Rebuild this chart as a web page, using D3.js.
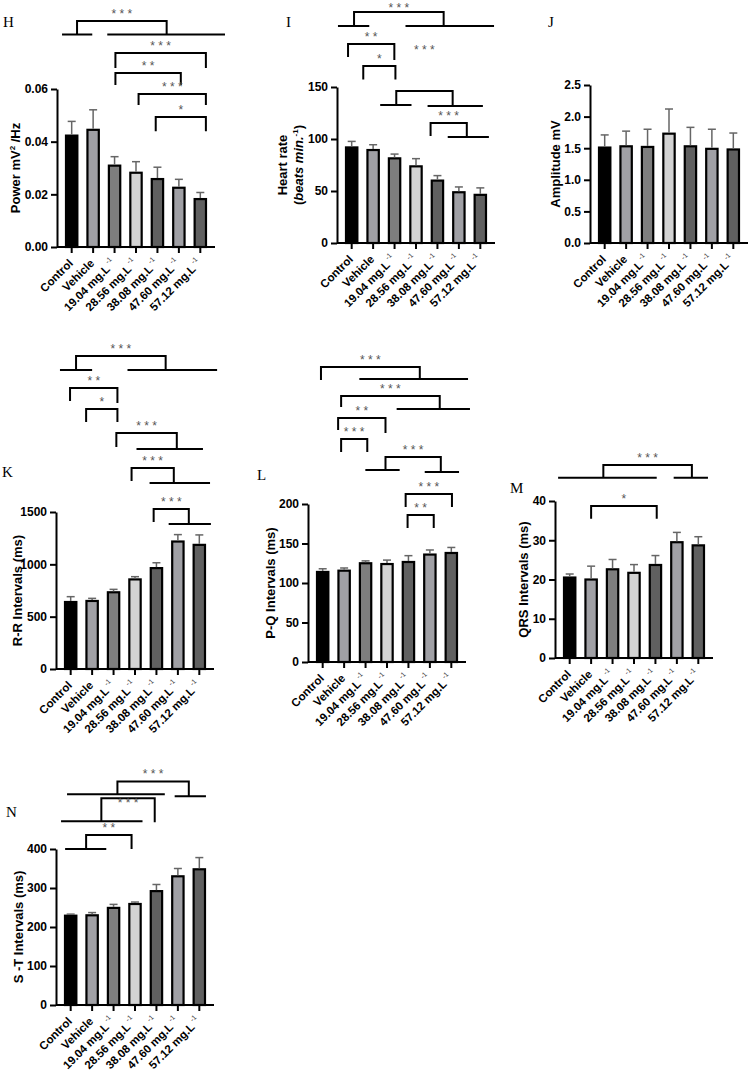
<!DOCTYPE html>
<html lang="en">
<head>
<meta charset="UTF-8">
<title>ECG parameters</title>
<script src="https://d3js.org/d3.v7.min.js"></script>
<style>
    body { margin: 0; background: #fff; }
    text { font-family: "Liberation Sans", Arial, sans-serif; }
    .letter { font-family: "Liberation Serif", "Times New Roman", serif; font-size: 15px; }
    .axis text { font-size: 12px; font-weight: bold; fill: #000; font-family: "Liberation Sans", Arial, sans-serif; }
    .axis path, .axis line { stroke: #000; stroke-width: 2; }
    .xlab { font-size: 11.5px; font-weight: bold; }
    .ytitle { font-size: 13px; font-weight: bold; }
    .stars { font-size: 12px; fill: #555; }
</style>
</head>
<body>
<svg id="fig" width="750" height="1073"></svg>
<script>
// groups (x categories) shared by every panel
const groups = ["Control", "Vehicle", "19.04 mg.L", "28.56 mg.L", "38.08 mg.L", "47.60 mg.L", "57.12 mg.L"];
const groupSup = ["", "", "-1", "-1", "-1", "-1", "-1"];

// H - power
const powerMean = [0.0423, 0.0445, 0.0309, 0.0282, 0.0258, 0.0225, 0.0182];
const powerSem = [0.0054, 0.0076, 0.0034, 0.0042, 0.0045, 0.0032, 0.0025];
const powerTicks = [0, 0.02, 0.04, 0.06];

// I - heart rate
const heartMean = [91.9, 89.4, 81.4, 73.7, 60.0, 48.8, 46.3];
const heartSem = [5.8, 5.1, 4.1, 7.4, 4.8, 5.1, 6.7];
const heartTicks = [0, 50, 100, 150];

// J - amplitude
const ampMean = [1.51, 1.53, 1.52, 1.73, 1.53, 1.49, 1.48];
const ampSem = [0.20, 0.24, 0.28, 0.39, 0.30, 0.31, 0.26];
const ampTicks = [0, 0.5, 1.0, 1.5, 2.0, 2.5];

// K - R-R intervals
const rrMean = [640, 650, 733, 856, 964, 1218, 1186];
const rrSem = [51, 25, 28, 26, 51, 66, 95];
const rrTicks = [0, 500, 1000, 1500];

// L - P-Q intervals
const pqMean = [114, 115.6, 125, 124, 126.6, 136, 138];
const pqSem = [4, 3.4, 3, 5, 8, 5.8, 7];
const pqTicks = [0, 50, 100, 150, 200];

// M - QRS intervals
const qrsMean = [20.5, 20.0, 22.6, 21.7, 23.7, 29.5, 28.7];
const qrsSem = [0.9, 3.4, 2.5, 2.1, 2.4, 2.5, 2.2];
const qrsTicks = [0, 10, 20, 30, 40];

// N - S-T intervals
const stMean = [229, 230, 249, 259, 292, 330, 348];
const stSem = [4, 7, 9, 5, 17, 20, 30];
const stTicks = [0, 100, 200, 300, 400];

// significance brackets: l/r = group index of the legs, top/lEnd/rEnd in axis units,
// lLine/rLine = group-index span of a horizontal group line at the leg end
const powerSig = [
    { t: "***", top: 0.0858, l: 0.25, r: 4.43, lEnd: 0.0807, rEnd: 0.0807, lLine: [-0.45, 0.96], rLine: [1.66, 7.15] },
    { t: "***", top: 0.0737, l: 2.04, r: 6.26, lEnd: 0.0680, rEnd: 0.0680 },
    { t: "**", top: 0.0661, l: 2.04, r: 5.09, lEnd: 0.0615, rEnd: 0.0615 },
    { t: "***", top: 0.0581, l: 3.12, r: 6.26, lEnd: 0.0539, rEnd: 0.0539 },
    { t: "*", top: 0.0494, l: 3.92, r: 6.26, lEnd: 0.0440, rEnd: 0.0440 }
];
const heartSig = [
    { t: "***", top: 222.1, l: 0.11, r: 4.29, lEnd: 208.7, rEnd: 208.7, lLine: [-0.64, 0.82], rLine: [2.51, 6.64], tY: 222.1 },
    { t: "**", top: 191.3, l: -0.17, r: 1.99, lEnd: 178.8, rEnd: 176.0 },
    { t: "*", top: 170.2, l: 0.54, r: 2.04, lEnd: 157.2, rEnd: 157.2 },
    { t: "***", top: 146.2, l: 2.08, r: 4.71, lEnd: 132.7, rEnd: 131.7, lLine: [1.33, 2.79], rLine: [3.54, 6.12], tY: 181.7 },
    { t: "***", top: 115.4, l: 3.68, r: 5.37, lEnd: 102.9, rEnd: 101.9, rLine: [4.48, 6.40] }
];
const rrSig = [
    { t: "***", top: 2990, l: 0.25, r: 4.43, lEnd: 2857, rEnd: 2857, lLine: [-0.50, 1.00], rLine: [2.65, 6.83] },
    { t: "**", top: 2685, l: -0.03, r: 2.18, lEnd: 2560, rEnd: 2541 },
    { t: "*", top: 2484, l: 0.72, r: 2.18, lEnd: 2360, rEnd: 2360 },
    { t: "***", top: 2255, l: 2.13, r: 4.95, lEnd: 2121, rEnd: 2102, rLine: [3.07, 6.17] },
    { t: "***", top: 1920, l: 2.84, r: 4.81, lEnd: 1796, rEnd: 1777, rLine: [3.68, 6.50] },
    { t: "***", top: 1529, l: 3.87, r: 5.51, lEnd: 1404, rEnd: 1385, rLine: [4.57, 6.54] }
];
const pqSig = [
    { t: "***", top: 373.4, l: -0.08, r: 4.53, lEnd: 357.0, rEnd: 358.2, rLine: [1.71, 6.78] },
    { t: "***", top: 336.7, l: 0.86, r: 5.46, lEnd: 322.8, rEnd: 320.2, rLine: [3.45, 6.87] },
    { t: "**", top: 308.9, l: 0.72, r: 2.93, lEnd: 293.7, rEnd: 289.9 },
    { t: "***", top: 282.3, l: 0.86, r: 2.08, lEnd: 265.8, rEnd: 265.8 },
    { t: "***", top: 259.5, l: 2.93, r: 5.51, lEnd: 243.0, rEnd: 240.5, lLine: [1.99, 3.59], rLine: [4.76, 6.36] },
    { t: "***", top: 212.7, l: 3.87, r: 6.03, lEnd: 196.2, rEnd: 196.2 },
    { t: "**", top: 186.1, l: 3.96, r: 5.18, lEnd: 169.6, rEnd: 169.6 }
];
const qrsSig = [
    { t: "***", top: 49.2, l: 1.57, r: 5.70, lEnd: 45.9, rEnd: 45.9, lLine: [-0.54, 4.06], rLine: [4.85, 6.45] },
    { t: "*", top: 38.7, l: 1.00, r: 4.06, lEnd: 35.5, rEnd: 35.5 }
];
const stSig = [
    { t: "***", top: 573.2, l: 2.18, r: 5.51, lEnd: 540.1, rEnd: 535.0, lLine: [-0.17, 4.39], rLine: [4.85, 6.31] },
    { t: "***", top: 529.9, l: 1.43, r: 3.92, lEnd: 471.3, rEnd: 468.8, lLine: [-0.45, 3.35], tY: 507 },
    { t: "**", top: 435.7, l: 0.72, r: 2.84, lEnd: 400, rEnd: 400, lLine: [-0.26, 1.66] }
];

// bar fill per group
const groupFill = ["#000000", "#a0a0a5", "#7e7e7e", "#d3d3d3", "#606060", "#a0a0a5", "#606060"];

// panel layout
const panels = [
    { letter: "H", lx: 3, ly: 27, ax: 57, top: 89, bottom: 247, mean: powerMean, sem: powerSem, ticks: powerTicks, fmt: ".2f", sig: powerSig,
      titleX: [15], title: [[{ t: "Power mV" }, { t: "2", sup: true }, { t: " /Hz" }]] },
    { letter: "I", lx: 286, ly: 27, ax: 337, top: 87, bottom: 243, mean: heartMean, sem: heartSem, ticks: heartTicks, fmt: "d", sig: heartSig,
      titleX: [282, 298], title: [[{ t: "Heart rate" }], [{ t: "(" }, { t: "beats min.", it: true }, { t: "-1", sup: true }, { t: ")" }]] },
    { letter: "J", lx: 548, ly: 27, ax: 590, top: 85, bottom: 243, mean: ampMean, sem: ampSem, ticks: ampTicks, fmt: ".1f", sig: [],
      titleX: [555], title: [[{ t: "Amplitude mV" }]] },
    { letter: "K", lx: 2, ly: 477, ax: 56, top: 512, bottom: 669, mean: rrMean, sem: rrSem, ticks: rrTicks, fmt: "d", sig: rrSig,
      titleX: [17], title: [[{ t: "R-R Intervals (ms)" }]] },
    { letter: "L", lx: 257, ly: 480, ax: 308, top: 504, bottom: 662, mean: pqMean, sem: pqSem, ticks: pqTicks, fmt: "d", sig: pqSig,
      titleX: [270], title: [[{ t: "P-Q Intervals (ms)" }]] },
    { letter: "M", lx: 510, ly: 493, ax: 555, top: 501, bottom: 658, mean: qrsMean, sem: qrsSem, ticks: qrsTicks, fmt: "d", sig: qrsSig,
      titleX: [523], title: [[{ t: "QRS Intervals (ms)" }]] },
    { letter: "N", lx: 6, ly: 817, ax: 56, top: 849, bottom: 1005, mean: stMean, sem: stSem, ticks: stTicks, fmt: "d", sig: stSig,
      titleX: [18], title: [[{ t: "S -T Intervals (ms)" }]] }
];

const svg = d3.select("#fig");
svg.append("rect").attr("width", 750).attr("height", 1073).attr("fill", "#fff");

function addSegments(textSel, segs, supSize) {
    let raised = false;
    segs.forEach(s => {
        const ts = textSel.append("tspan").text(s.t);
        if (s.it) ts.attr("font-style", "italic");
        if (s.sup) {
            ts.attr("font-size", supSize).attr("dy", -5);
            raised = true;
        } else if (raised) {
            ts.attr("dy", 5);
            raised = false;
        }
    });
}

function drawPanel(p) {
    const g = svg.append("g");
    const plotW = 158;

    const x = d3.scaleBand()
        .domain(groups)
        .range([p.ax, p.ax + plotW])
        .paddingInner(0.47)
        .paddingOuter(0.42);
    const y = d3.scaleLinear()
        .domain([0, d3.max(p.ticks)])
        .range([p.bottom, p.top]);
    // fractional group index -> pixel
    const xi = i => x(groups[0]) + x.bandwidth() / 2 + i * x.step();

    // bars
    g.selectAll("rect.bar")
        .data(groups)
        .join("rect")
        .attr("class", "bar")
        .attr("x", d => x(d))
        .attr("width", x.bandwidth())
        .attr("y", (d, i) => y(p.mean[i]))
        .attr("height", (d, i) => y(0) - y(p.mean[i]))
        .attr("fill", (d, i) => groupFill[i])
        .attr("stroke", "#000")
        .attr("stroke-width", 2.2);

    // error bars (upper only)
    groups.forEach((d, i) => {
        const cx = x(d) + x.bandwidth() / 2;
        const yTop = y(p.mean[i] + p.sem[i]);
        g.append("line")
            .attr("x1", cx).attr("x2", cx)
            .attr("y1", y(p.mean[i]) - 1).attr("y2", yTop)
            .attr("stroke", "#666").attr("stroke-width", 1.5);
        g.append("line")
            .attr("x1", cx - 4).attr("x2", cx + 4)
            .attr("y1", yTop).attr("y2", yTop)
            .attr("stroke", "#666").attr("stroke-width", 1.5);
    });

    // y axis
    g.append("g")
        .attr("class", "axis")
        .attr("transform", `translate(${p.ax},0)`)
        .call(d3.axisLeft(y).tickValues(p.ticks).tickFormat(d3.format(p.fmt)).tickSize(6).tickSizeOuter(0).tickPadding(3));

    // x axis
    const xAxis = g.append("g")
        .attr("class", "axis")
        .attr("transform", `translate(0,${p.bottom})`)
        .call(d3.axisBottom(x).tickSize(6).tickSizeOuter(0).tickFormat(""));
    xAxis.select(".domain").attr("d", `M${p.ax},0H${p.ax + plotW}`);

    // rotated category labels
    groups.forEach((d, i) => {
        const cx = x(d) + x.bandwidth() / 2;
        const t = g.append("text")
            .attr("class", "xlab")
            .attr("text-anchor", "end")
            .attr("transform", `translate(${cx + 2},${p.bottom + 17}) rotate(-45)`);
        t.append("tspan").text(d);
        if (groupSup[i]) {
            t.append("tspan").text(groupSup[i])
                .attr("font-size", 7).attr("font-weight", "normal").attr("fill", "#333")
                .attr("dx", 2).attr("dy", -6);
        }
    });

    // y title
    const cy = (p.top + p.bottom) / 2;
    p.title.forEach((line, k) => {
        const tx = p.titleX[k] + 4.5;
        const t = g.append("text")
            .attr("class", "ytitle")
            .attr("text-anchor", "middle")
            .attr("transform", `translate(${tx},${cy}) rotate(-90)`);
        addSegments(t, line, 8);
    });

    // panel letter
    g.append("text").attr("class", "letter").attr("x", p.lx).attr("y", p.ly).text(p.letter);

    // significance brackets
    p.sig.forEach(s => {
        const path = d3.path();
        path.moveTo(xi(s.l), y(s.lEnd));
        path.lineTo(xi(s.l), y(s.top));
        path.lineTo(xi(s.r), y(s.top));
        path.lineTo(xi(s.r), y(s.rEnd));
        if (s.lLine) {
            path.moveTo(xi(s.lLine[0]), y(s.lEnd));
            path.lineTo(xi(s.lLine[1]), y(s.lEnd));
        }
        if (s.rLine) {
            path.moveTo(xi(s.rLine[0]), y(s.rEnd));
            path.lineTo(xi(s.rLine[1]), y(s.rEnd));
        }
        g.append("path")
            .attr("d", path.toString())
            .attr("fill", "none")
            .attr("stroke", "#000")
            .attr("stroke-width", 2);

        g.append("text")
            .attr("class", "stars")
            .attr("text-anchor", "middle")
            .attr("x", xi((s.l + s.r) / 2))
            .attr("y", s.tY != null ? y(s.tY) : y(s.top) - 3)
            .text(s.t.split("").join(" "));
    });
}

panels.forEach(drawPanel);
</script>
</body>
</html>
